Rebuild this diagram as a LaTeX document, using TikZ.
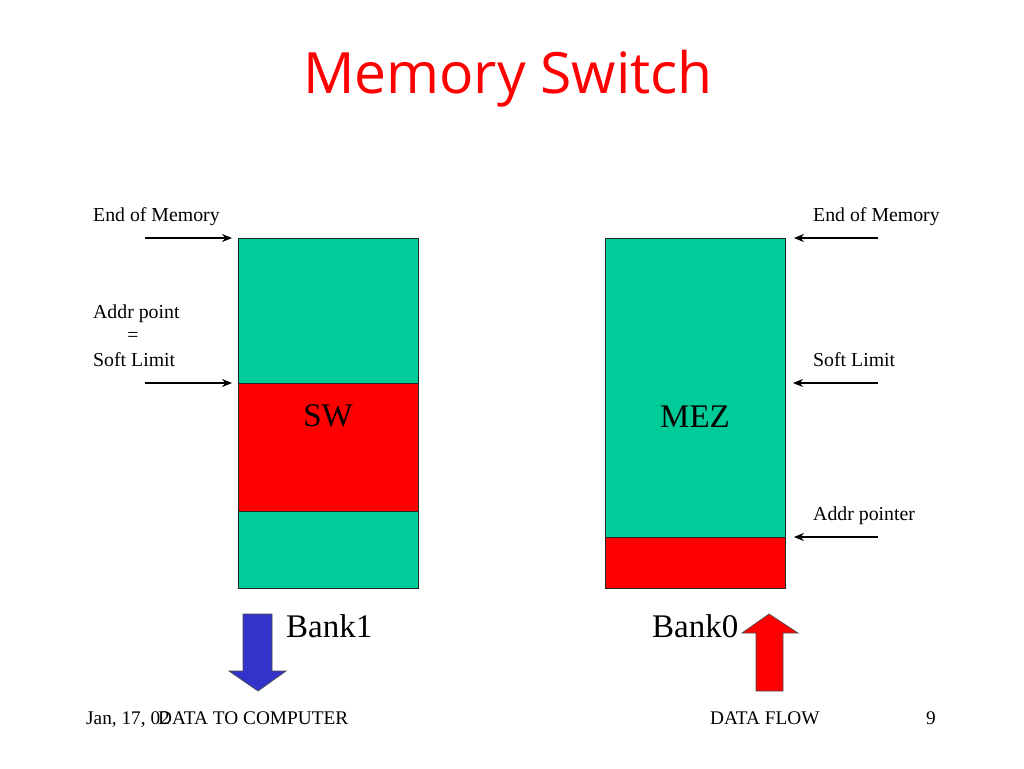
\documentclass[tikz,border=0pt]{standalone}
\usepackage{fontspec}
\setmainfont{Liberation Serif}
\newfontfamily\titlefont{Open Sans}
\usetikzlibrary{arrows.meta}
\definecolor{memgreen}{RGB}{0,204,153}
\definecolor{memred}{RGB}{255,0,0}
\definecolor{flowblue}{RGB}{51,51,204}
\tikzset{
  block/.style={draw=black!85, line width=0.9pt, anchor=north west, inner sep=0pt, minimum width=180pt},
  lbl/.style={anchor=base west, inner sep=0pt, font=\fontsize{19.8}{22}\selectfont},
  big/.style={anchor=base, inner sep=0pt, font=\fontsize{33}{38}\selectfont},
  foot/.style={anchor=base west, inner sep=0pt, font=\fontsize{19.3}{22}\selectfont},
  ptr/.style={line width=1.1pt, -{Stealth[length=10pt,width=8pt]}},
  flow/.style={draw=black!70, line width=0.7pt, line join=miter}
}
\begin{document}
\begin{tikzpicture}[x=1pt,y=-1pt]
\useasboundingbox[fill=white] (0,0) rectangle (1024,768);
% title
\node[anchor=base, inner sep=0pt, text=memred, font=\titlefont\fontsize{57}{62}\selectfont] (title) at (508,93) {Memory Switch};
% left bank
\node[block, fill=memgreen, minimum height=145pt] (l1) at (238,238) {};
\node[block, fill=memred, minimum height=128pt] (l2) at (238,383) {};
\node[block, fill=memgreen, minimum height=77pt] (l3) at (238,511) {};
\node[big] (sw) at (328,426) {SW};
% right bank
\node[block, fill=memgreen, minimum height=299pt] (r1) at (605,238) {};
\node[block, fill=memred, minimum height=51pt] (r2) at (605,537) {};
\node[big] (mez) at (695,427) {MEZ};
% left labels
\node[lbl] (lend) at (93,221) {End of Memory};
\node[lbl] (laddr) at (93,318) {Addr point};
\node[lbl, anchor=base] (leq) at (133,341) {=};
\node[lbl] (lsoft) at (93,366) {Soft Limit};
\coordinate (la1) at (145,238);
\coordinate (la2) at (145,383);
\draw[ptr, shorten >=6pt] (la1) -- (l1.north west);
\draw[ptr, shorten >=6pt] (la2) -- (l2.north west);
% right labels
\node[lbl] (rend) at (813,221) {End of Memory};
\node[lbl] (rsoft) at (813,366) {Soft Limit};
\node[lbl] (raddr) at (813,520) {Addr pointer};
\coordinate (ra1) at (878,238);
\coordinate (ra2) at (878,383);
\coordinate (r1s) at (785,383);
\coordinate (ra3) at (878,537);
\draw[ptr, shorten >=8pt] (ra1) -- (r1.north east);
\draw[ptr, shorten >=8pt] (ra2) -- (r1s);
\draw[ptr, shorten >=8pt] (ra3) -- (r2.north east);
% bank labels
\node[big, anchor=base west] (bank1) at (286,637) {Bank1};
\node[big, anchor=base west] (bank0) at (652,637) {Bank0};
% flow arrows
\draw[flow, fill=flowblue] (243,614) -- (272,614) -- (272,671) -- (286,671) -- (258,691) -- (229,671) -- (243,671) -- cycle;
\draw[flow, fill=memred] (756,691) -- (783,691) -- (783,633) -- (798,633) -- (769,614) -- (742,633) -- (756,633) -- cycle;
% footer
\node[foot] (date) at (86,724) {Jan, 17, 02};
\node[foot] (dtc) at (158,724) {DATA TO COMPUTER};
\node[foot] (df) at (710,724) {DATA FLOW};
\node[foot] (pg) at (926,724) {9};
\end{tikzpicture}
\end{document}
